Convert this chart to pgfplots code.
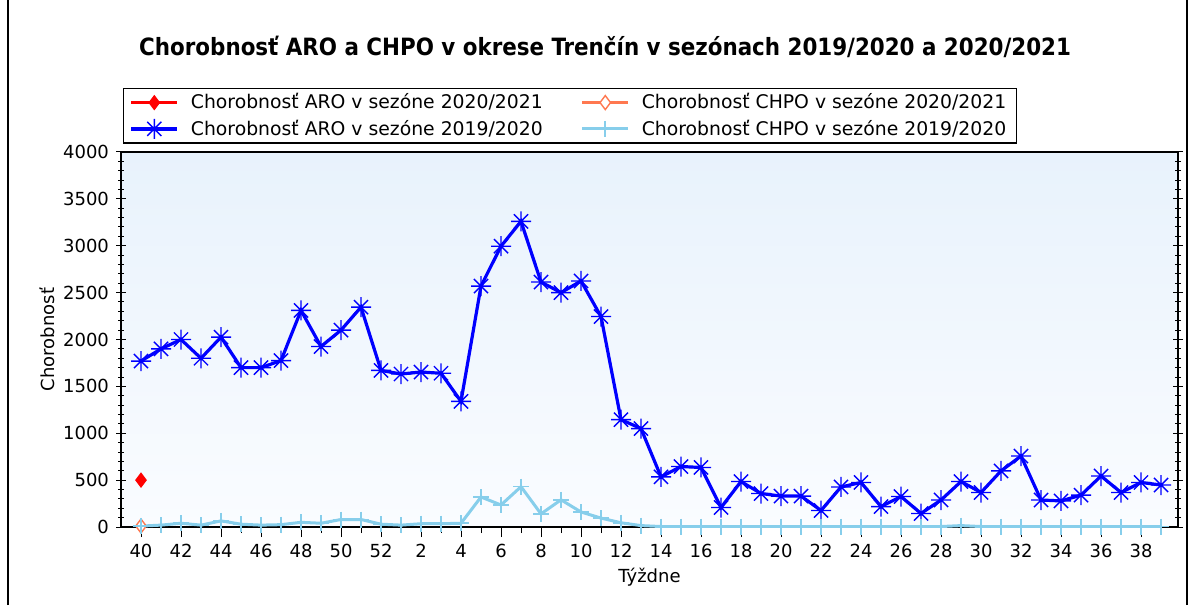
\documentclass[border=0pt]{standalone}
\usepackage{fontspec}
\setmainfont{DejaVu Sans}
\newfontfamily\titlefont{DejaVu Sans Condensed}
\usepackage{pgfplots}
\pgfplotsset{compat=1.18}

\definecolor{aroNew}{RGB}{255,0,0}
\definecolor{chpoNew}{RGB}{255,120,80}
\definecolor{aroOld}{RGB}{0,0,255}
\definecolor{chpoOld}{RGB}{135,206,235}
\definecolor{bgTop}{RGB}{232,242,252}
\definecolor{bgBot}{RGB}{250,252,255}

\pgfdeclareplotmark{ast8}{%
  \pgfpathmoveto{\pgfpoint{-\pgfplotmarksize}{0pt}}\pgfpathlineto{\pgfpoint{\pgfplotmarksize}{0pt}}%
  \pgfpathmoveto{\pgfpoint{0pt}{-\pgfplotmarksize}}\pgfpathlineto{\pgfpoint{0pt}{\pgfplotmarksize}}%
  \pgfpathmoveto{\pgfpoint{-0.707\pgfplotmarksize}{-0.707\pgfplotmarksize}}\pgfpathlineto{\pgfpoint{0.707\pgfplotmarksize}{0.707\pgfplotmarksize}}%
  \pgfpathmoveto{\pgfpoint{-0.707\pgfplotmarksize}{0.707\pgfplotmarksize}}\pgfpathlineto{\pgfpoint{0.707\pgfplotmarksize}{-0.707\pgfplotmarksize}}%
  \pgfusepathqstroke}

\begin{document}
\begin{tikzpicture}[x=1pt,y=1pt]
\useasboundingbox (0,0) rectangle (596,302.5);
\draw[line width=0.6pt,black] (4,0) -- (4,302.5);
\draw[line width=0.6pt,black] (593.5,0) -- (593.5,302.5);
\begin{axis}[
  at={(60.5pt,39pt)}, anchor=south west,
  scale only axis, width=528.5pt, height=187.5pt,
  xmin=-1, xmax=51.85, ymin=0, ymax=4000,
  axis background/.style={top color=bgTop, bottom color=bgBot},
  axis line style={black, line width=0.6pt},
  xtick={0,2,...,50},
  xticklabels={40,42,44,46,48,50,52,2,4,6,8,10,12,14,16,18,20,22,24,26,28,30,32,34,36,38},
  minor xtick={1,3,...,51},
  ytick={0,500,...,4000},
  minor y tick num=4,
  xtick pos=left, ytick pos=both,
  tick align=center,
  xtick align=outside,
  major tick length=5pt, minor tick length=3pt,
  every tick/.style={black, line width=0.5pt},
  tick label style={font=\fontsize{9}{10}\selectfont},
  /pgf/number format/1000 sep={},
  /pgf/number format/assume math mode=true,
  xlabel={Týždne},
  xlabel style={at={(axis description cs:0.5,-0.133)}, anchor=center, font=\fontsize{9}{10}\selectfont},
  ylabel={Chorobnosť},
  ylabel style={at={(axis description cs:-0.07,0.5)}, anchor=center, font=\fontsize{9}{10}\selectfont},
  title={Chorobnosť ARO a CHPO v okrese Trenčín v sezónach 2019/2020 a 2020/2021},
  title style={at={(axis description cs:0.458,1.248)}, anchor=center, font=\titlefont\bfseries\fontsize{11.9}{13}\selectfont},
  legend columns=2,
  legend cell align=left,
  legend style={at={(axis description cs:0.002,1.171)}, anchor=north west, draw=black, line width=0.6pt,
    font=\fontsize{9.4}{10}\selectfont, inner xsep=3pt, inner ysep=0.5pt, row sep=0pt,
    /tikz/every odd column/.append style={column sep=4pt},
    /tikz/every even column/.append style={column sep=17pt}},
  legend image code/.code={\draw[mark repeat=2,mark phase=2] plot coordinates {(0pt,0pt) (11.5pt,0pt) (23pt,0pt)};},
]
\addplot[color=aroNew, line width=1.5pt, mark=diamond*, mark size=3.5pt, mark options={solid, fill=aroNew, line width=0.5pt}]
  coordinates {(0,500)};
\addlegendentry{Chorobnosť ARO v sezóne 2020/2021}
\addplot[color=chpoNew, line width=1.5pt, mark=diamond*, mark size=3.5pt, mark options={solid, fill=white, line width=0.7pt}]
  coordinates {(0,10)};
\addlegendentry{Chorobnosť CHPO v sezóne 2020/2021}
\addplot[color=aroOld, line width=1.6pt, mark=ast8, mark size=5pt, mark options={solid, line width=0.7pt}]
  coordinates {
  (0,1770) (1,1900) (2,2000) (3,1800) (4,2025) (5,1700) (6,1700) (7,1775) (8,2310) (9,1925)
  (10,2100) (11,2345) (12,1670) (13,1632) (14,1653) (15,1640) (16,1340) (17,2570) (18,2995) (19,3260)
  (20,2613) (21,2500) (22,2624) (23,2245) (24,1145) (25,1050) (26,535) (27,645) (28,635) (29,208)
  (30,485) (31,357) (32,330) (33,330) (34,176) (35,427) (36,475) (37,218) (38,325) (39,144)
  (40,288) (41,485) (42,368) (43,598) (44,757) (45,288) (46,278) (47,340) (48,544) (49,368)
  (50,475) (51,448)
  };
\addlegendentry{Chorobnosť ARO v sezóne 2019/2020}
\addplot[color=chpoOld, line width=1.5pt, mark=+, mark size=4pt, mark options={solid, line width=0.8pt}]
  coordinates {
  (0,10) (1,20) (2,40) (3,20) (4,65) (5,30) (6,20) (7,25) (8,50) (9,40)
  (10,80) (11,80) (12,30) (13,20) (14,35) (15,35) (16,40) (17,320) (18,235) (19,430)
  (20,140) (21,290) (22,160) (23,95) (24,45) (25,15) (26,5) (27,5) (28,5) (29,5)
  (30,5) (31,5) (32,5) (33,5) (34,5) (35,5) (36,5) (37,5) (38,5) (39,5)
  (40,5) (41,15) (42,5) (43,5) (44,5) (45,5) (46,5) (47,5) (48,5) (49,5)
  (50,5) (51,5)
  };
\addlegendentry{Chorobnosť CHPO v sezóne 2019/2020}
\end{axis}
\end{tikzpicture}
\end{document}
